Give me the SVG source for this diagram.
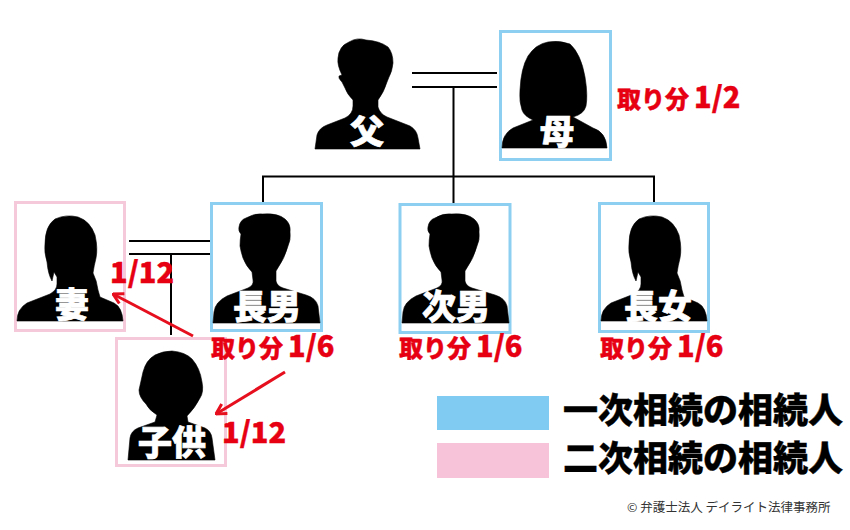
<svg xmlns="http://www.w3.org/2000/svg" xmlns:xlink="http://www.w3.org/1999/xlink" width="850" height="530" viewBox="0 0 850 530">
<style>
.fr{fill:#fff;stroke-width:3}
.b{stroke:#8ccff0}
.p{stroke:#f5c9da}
.s{fill:#000;stroke:#000;stroke-width:.6;stroke-linejoin:round}
.n{font-family:"Noto Sans CJK JP","Noto Sans",sans-serif;font-weight:900;font-size:34px;fill:#fff;stroke:#fff;stroke-width:.7;text-anchor:middle}
.r{font-family:"Noto Sans CJK JP","Noto Sans",sans-serif;font-weight:900;font-size:24px;fill:#e60012;stroke:#e60012;stroke-width:.4}
.d{font-size:29px}
.l{font-family:"Noto Sans CJK JP","Noto Sans",sans-serif;font-weight:900;font-size:35px;fill:#000;stroke:#000;stroke-width:.4}
.c{fill:none;stroke:#000;stroke-width:2}
.a{fill:none;stroke:#e60f1e;stroke-width:3;marker-end:url(#ah)}
</style>
<defs>
<marker id="ah" viewBox="0 0 14 14" refX="13" refY="7" markerWidth="14" markerHeight="14" markerUnits="userSpaceOnUse" orient="auto"><path d="M3,1.500 L13,7 L3,12.500" fill="none" stroke="#e60f1e" stroke-width="3"/></marker>
<path id="man" class="s" d="M213,323 L214,312 Q215,302 227,296 Q240,291 248,288 Q254,285 253,280 L252,272 Q246,266 243,258 Q241,252 240,246 Q240,240 241,234 Q238,231 239,227 Q240,220 246,218 Q254,213 263,214 Q278,213 285,219 Q291,224 290,232 Q291,240 288,246 Q285,258 276,271 L276,281 Q277,286 283,288 L306,295 Q316,298 318,306 L320,323 Z"/>
<path id="woman" class="s" d="M17,321 Q17,309 27,303 L50,294 Q57,290 57,284 L57,277 L54,272 L52,281 Q48,274 47,262 Q44,252 45,244 Q45,226 55,219 Q66,214 78,217 Q90,221 95,235 Q98,248 96,258 Q94,266 93,273 Q97,281 98,290 L100,297 L114,303 Q122,307 123,321 Z"/>
</defs>
<rect width="850" height="530" fill="#fff"/>
<g id="connectors">
<path class="c" d="M412,73H497M412,87H497M453.500,87V204M263,203V176.500H654V203"/>
<path class="c" d="M129,241H213M129,254H213M171,254V335"/>
</g>
<g id="father">
<path class="s" d="M315,149 L317,135 Q319,128 327,125 L345,118 Q353,114 353,106 L353,100 Q347,94 345,88 L342,82 Q338,78 339,76 L342,75 Q337,65 338,58 Q339,46 349,42 Q357,37 366,40 Q380,41 388,47 Q393,53 393,63 Q392,72 389,77 L387,82 Q384,92 378,100 L378,107 Q380,114 387,117 L410,126 Q417,130 418,138 L420,149 Z"/>
<text class="n" x="367" y="144">父</text>
</g>
<g id="mother">
<rect class="fr b" x="500.500" y="31.500" width="110" height="128"/>
<path class="s" d="M502,148 Q502,134 513,128 L533,120 Q524,116 522,110 Q519,102 520,90 Q521,68 528,56 Q536,44 548,42 Q560,40 570,44 Q581,54 585,77 Q588,95 586,106 Q584,114 573,117 L593,128 Q606,132 607,148 Z"/>
<text class="n" x="557" y="144">母</text>
<text class="r" x="617" y="108">取り分 <tspan class="d" x="694">1/2</tspan></text>
</g>
<g id="child">
<rect class="fr p" x="116.500" y="338.500" width="109" height="127"/>
<path class="s" d="M128,460 L130,438 Q131,431 138,428 L155,422 L157,415 Q149,410 146,404 Q139,397 139,390 L143,372 Q146,360 155,355 Q163,351 172,351 Q185,352 192,359 Q200,368 202,382 Q204,392 200,398 Q195,408 187,416 L188,422 L205,428 Q211,431 212,438 L215,460 Z"/>
<text class="n" x="172" y="455">子供</text>
<text class="r d" x="222" y="443">1/12</text>
</g>
<g id="wife">
<rect class="fr p" x="15.500" y="202.500" width="109" height="128"/>
<use xlink:href="#woman" href="#woman"/>
<text class="n" x="72" y="317">妻</text>
<text class="r d" x="110" y="283">1/12</text>
</g>
<g id="eldest-son">
<rect class="fr b" x="211.500" y="203.500" width="110" height="127"/>
<use xlink:href="#man" href="#man"/>
<text class="n" x="267" y="319">長男</text>
<text class="r" x="211" y="357">取り分 <tspan class="d" x="288">1/6</tspan></text>
</g>
<g id="second-son">
<rect class="fr b" x="400" y="204.500" width="110" height="128"/>
<use xlink:href="#man" href="#man" x="189"/>
<text class="n" x="456" y="319">次男</text>
<text class="r" x="399" y="357">取り分 <tspan class="d" x="476">1/6</tspan></text>
</g>
<g id="eldest-daughter">
<rect class="fr b" x="599.500" y="203.500" width="109" height="128"/>
<use xlink:href="#woman" href="#woman" x="584"/>
<text class="n" x="658" y="319">長女</text>
<text class="r" x="600" y="357">取り分 <tspan class="d" x="677">1/6</tspan></text>
</g>
<g id="arrows">
<path class="a" d="M193,336 L113,294"/>
<path class="a" d="M285,372 L216,414"/>
</g>
<g id="legend">
<rect x="437" y="396" width="112" height="34" fill="#7fcbf2"/>
<rect x="437" y="443" width="112" height="35" fill="#f7c3d9"/>
<text class="l" x="563" y="423">一次相続の相続人</text>
<text class="l" x="563" y="471">二次相続の相続人</text>
</g>
<text x="627" y="512" font-family="'Noto Sans CJK JP','Noto Sans',sans-serif" font-size="12.500" fill="#333">© 弁護士法人 デイライト法律事務所</text>
</svg>
